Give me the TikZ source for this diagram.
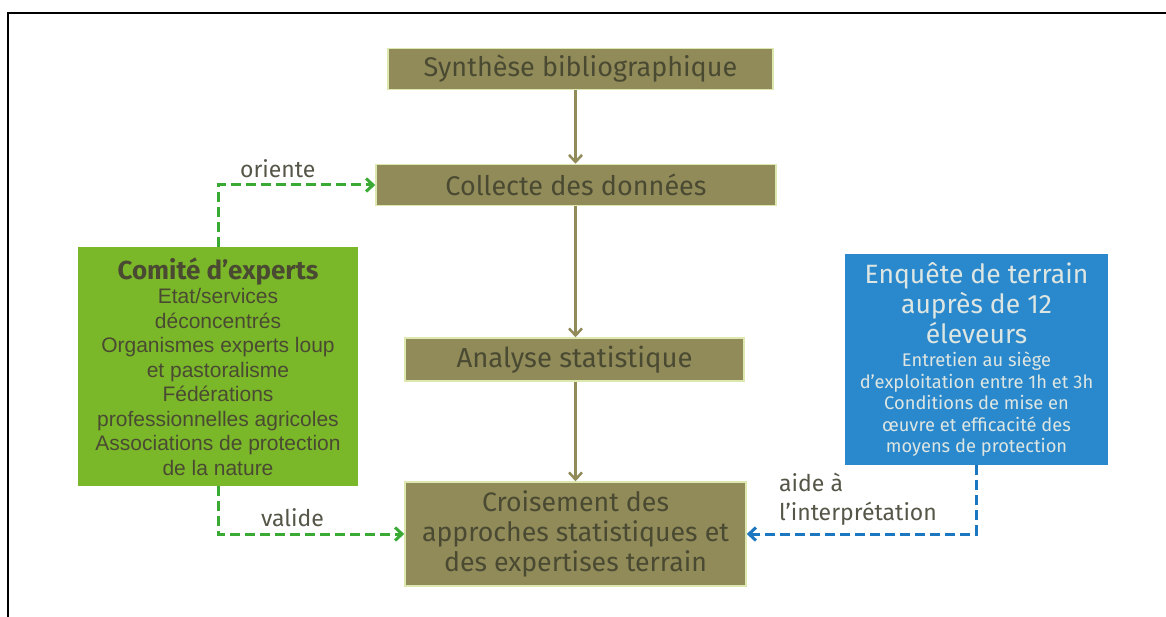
\documentclass[tikz,border=0pt]{standalone}
\usepackage{fontspec}
\setmainfont{Fira Sans}
\newfontfamily\arialfont{Liberation Sans}
\newfontfamily\firafont{Fira Sans}
\usetikzlibrary{arrows.meta}

\definecolor{boxolive}{HTML}{918B59}
\definecolor{glow}{HTML}{DCE8B0}
\definecolor{darktext}{HTML}{4A4A33}
\definecolor{labeltext}{HTML}{555548}
\definecolor{comitegreen}{HTML}{7AB829}
\definecolor{enqueteblue}{HTML}{2A88CC}
\definecolor{lighttext}{HTML}{DDE6E2}
\definecolor{flowgreen}{HTML}{3AAA35}
\definecolor{flowblue}{HTML}{1B77C0}

% big lines of the survey box
\newcommand\enqbig{\fontsize{26.5}{32}\selectfont}

\begin{document}
\begin{tikzpicture}[x=1pt,y=-1pt,
  >={Straight Barb[length=7pt,width=13pt]},
  stepbox/.style={fill=boxolive, draw=glow, line width=1.5pt, text=darktext,
    inner sep=0pt, align=center, font=\fontsize{27}{30}\selectfont},
  olivearrow/.style={->, draw=boxolive, line width=2.5pt},
  greenflow/.style={->, draw=flowgreen, line width=3pt, dash pattern=on 10pt off 5pt},
  blueflow/.style={->, draw=flowblue, line width=3pt, dash pattern=on 10pt off 5pt},
  flowlabel/.style={text=labeltext, font=\fontsize{23}{29}\selectfont}]
  \useasboundingbox (0,0) rectangle (1166,617);
  \fill[white] (0,0) rectangle (1166,617);
  \draw[line width=2pt] (8,617) -- (8,13) -- (1166,13);

  % central chain
  \node[stepbox, minimum width=385pt, minimum height=41pt] (synth) at (580.5,69) {Synthèse bibliographique};
  \node[stepbox, minimum width=400pt, minimum height=41pt] (collecte) at (576,185) {Collecte des données};
  \node[stepbox, minimum width=339pt, minimum height=43pt, font=\fontsize{27.5}{30}\selectfont]
    (analyse) at (574.5,359.5) {Analyse statistique};
  \node[stepbox, minimum width=341pt, minimum height=104pt, font=\fontsize{26.7}{30}\selectfont]
    (croise) at (575.5,534) {Croisement des\\approches statistiques et\\des expertises terrain};

  % side boxes
  \node[fill=comitegreen, minimum width=280pt, minimum height=239pt, inner sep=0pt,
    text=darktext, align=center, font=\arialfont\fontsize{21}{24.5}\selectfont]
    (comite) at (218,366.5)
    {\firafont\bfseries\fontsize{26}{28}\selectfont Comité d’experts\\
     Etat/services\\déconcentrés\\Organismes experts loup\\et pastoralisme\\Fédérations\\
     professionnelles agricoles\\Associations de protection\\de la nature};
  \node[fill=enqueteblue, minimum width=263pt, minimum height=211pt, inner sep=0pt,
    text=lighttext, align=center, font=\fontsize{18.3}{21.5}\selectfont]
    (enquete) at (976.5,359.5)
    {\enqbig Enquête de terrain\\[2.5pt]\enqbig auprès de 12\\[2.5pt]\enqbig éleveurs\\[1.5pt]
     Entretien au siège\\d’exploitation entre 1h et 3h\\Conditions de mise en\\
     œuvre et efficacité des\\moyens de protection};

  % connectors
  \draw[olivearrow] (synth.south -| croise.north) -- (collecte.north -| croise.north);
  \draw[olivearrow] (collecte.south -| croise.north) -- (analyse.north -| croise.north);
  \draw[olivearrow] (analyse.south -| croise.north) -- (croise.north);
  \draw[greenflow] (comite.north) |- (collecte.west)
    node[flowlabel, pos=0.69, above=2pt] {oriente};
  \draw[greenflow] (comite.south) |- (croise.west)
    node[flowlabel, pos=0.7, above=2pt] {valide};
  \draw[blueflow] (enquete.south) |- (croise.east)
    node[flowlabel, pos=0.94, anchor=south west, align=left, yshift=4pt] {aide à\\l’interprétation};
\end{tikzpicture}
\end{document}
